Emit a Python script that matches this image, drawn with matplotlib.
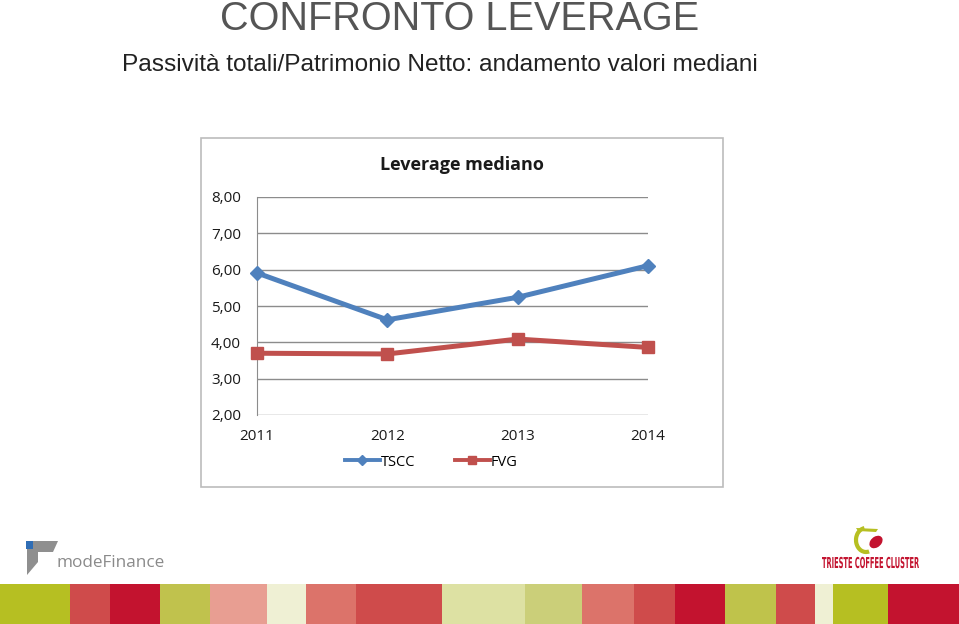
import numpy as np
import matplotlib.pyplot as plt
from matplotlib.patches import Rectangle, Ellipse, Arc, Polygon, PathPatch
from matplotlib.textpath import TextPath
from matplotlib.font_manager import FontProperties
from matplotlib.transforms import Affine2D

# data
years = ['2011', '2012', '2013', '2014']
tscc = [5.91, 4.62, 5.24, 6.11]
fvg = [3.70, 3.68, 4.09, 3.86]
yticks = [2, 3, 4, 5, 6, 7, 8]

# colour strip at the bottom of the slide (left edge px, colour)
strip_edges = [0, 70, 110, 160, 210, 267, 306, 356, 442, 525, 582, 634, 675, 725, 776, 815, 833, 888, 959]
strip_cols = ['#b6bf22', '#cf4b4b', '#c3132f', '#c0c24d', '#e89e92', '#eff0d4', '#dc736a', '#cf4b4b',
              '#dde1a3', '#cbcf79', '#dc736a', '#cf4b4b', '#c3132f', '#bfc34b', '#cf4b4b', '#eff0d4',
              '#b6bf22', '#c3132f']

W, H = 959, 624
fig = plt.figure(figsize=(W / 100, H / 100), dpi=100)
fig.patch.set_facecolor('white')

def fx(x):
    return x / W

def fy(y):
    return 1 - y / H

# slide titles
fig.text(fx(460), fy(30), 'CONFRONTO LEVERAGE', ha='center', va='baseline',
         fontsize=28.5, color='#555555', family='Liberation Sans')
fig.text(fx(440), fy(71), 'Passività totali/Patrimonio Netto: andamento valori mediani',
         ha='center', va='baseline', fontsize=17.6, color='#222222', family='Liberation Sans')

# chart frame
fig.patches.append(Rectangle((fx(201), fy(487)), fx(522), 349 / H, transform=fig.transFigure,
                             facecolor='white', edgecolor='#bcbcbc', lw=1.2, zorder=0))
fig.text(fx(462), fy(170), 'Leverage mediano', ha='center', va='baseline', fontsize=13,
         fontweight='bold', color='#1a1a1a', family='Open Sans')

ax = fig.add_axes([fx(257), fy(415), fx(648 - 257), (415 - 197) / H])
ax.set_zorder(2)
ax.patch.set_alpha(0)
x = np.arange(len(years))
ax.plot(x, tscc, color='#4f81bd', lw=3.6, marker='D', ms=7.5, label='TSCC', zorder=3, clip_on=False)
ax.plot(x, fvg, color='#c0504d', lw=3.6, marker='s', ms=8.5, label='FVG', zorder=3, clip_on=False)
ax.set_xlim(0, 3)
ax.set_ylim(2, 8)
ax.set_yticks(yticks)
ax.set_yticklabels(['%d,00' % v for v in yticks], family='Open Sans', fontsize=11, color='#1a1a1a')
ax.set_xticks(x)
ax.set_xticklabels(years, family='Open Sans', fontsize=11, color='#1a1a1a')
ax.grid(axis='y', color='#8c8c8c', lw=1)
ax.set_axisbelow(True)
for s in ['top', 'right', 'bottom']:
    ax.spines[s].set_visible(False)
ax.spines['left'].set_color('#8c8c8c')
ax.tick_params(length=0)
ax.tick_params(axis='x', pad=10)
ax.tick_params(axis='y', pad=11.5)

leg = fig.legend(loc='center', bbox_to_anchor=(fx(431), fy(462)), ncol=2, frameon=False,
                 prop={'family': 'Open Sans', 'size': 10.5}, handlelength=2.4, handletextpad=0.05,
                 columnspacing=2.7, markerscale=0.7)
for ln in leg.get_lines():
    ln.set_linewidth(2.8)

# left logo: modeFinance
fig.patches.append(Polygon([(fx(33), fy(541)), (fx(58), fy(541)), (fx(53), fy(552)), (fx(38), fy(552)),
                            (fx(38), fy(562)), (fx(27), fy(575)), (fx(27), fy(549)), (fx(33), fy(549))],
                           closed=True, transform=fig.transFigure, facecolor='#8f8f8f', edgecolor='none'))
fig.patches.append(Rectangle((fx(26), fy(549)), fx(7), 8 / H, transform=fig.transFigure,
                             facecolor='#2f6db5', edgecolor='none'))
fig.text(fx(57), fy(567), 'modeFinance', fontsize=12.3, color='#8a8a8a', family='Open Sans',
         va='baseline')

# right logo: Trieste Coffee Cluster
fig.patches.append(Arc((fx(866), fy(540)), fx(20), 24 / H, theta1=95, theta2=280,
                       transform=fig.transFigure, color='#b6bf22', lw=3))
fig.patches.append(Polygon([(fx(856), fy(528)), (fx(878), fy(529)), (fx(876), fy(532)), (fx(858), fy(531))],
                           closed=True, transform=fig.transFigure, facecolor='#b6bf22', edgecolor='none'))
fig.patches.append(Ellipse((fx(876), fy(542)), fx(12), 13 / H, angle=-20, transform=fig.transFigure,
                           facecolor='#c3132f', edgecolor='none'))
tp = TextPath((0, 0), 'TRIESTE COFFEE CLUSTER', size=10,
              prop=FontProperties(family='DejaVu Sans', weight='bold'))
bb = tp.get_extents()
sx = 97 / bb.width
sy = 11 / 7.3
tr = Affine2D().translate(-bb.x0, 0).scale(sx, sy).translate(822, H - 568)
fig.patches.append(PathPatch(tr.transform_path(tp), transform=None, facecolor='#c3132f',
                             edgecolor='none'))

# colour strip
for i in range(len(strip_cols)):
    fig.patches.append(Rectangle((fx(strip_edges[i]), 0), fx(strip_edges[i + 1] - strip_edges[i]),
                                 (H - 584) / H, transform=fig.transFigure,
                                 facecolor=strip_cols[i], edgecolor='none'))

fig.savefig('out.png', dpi=100)
